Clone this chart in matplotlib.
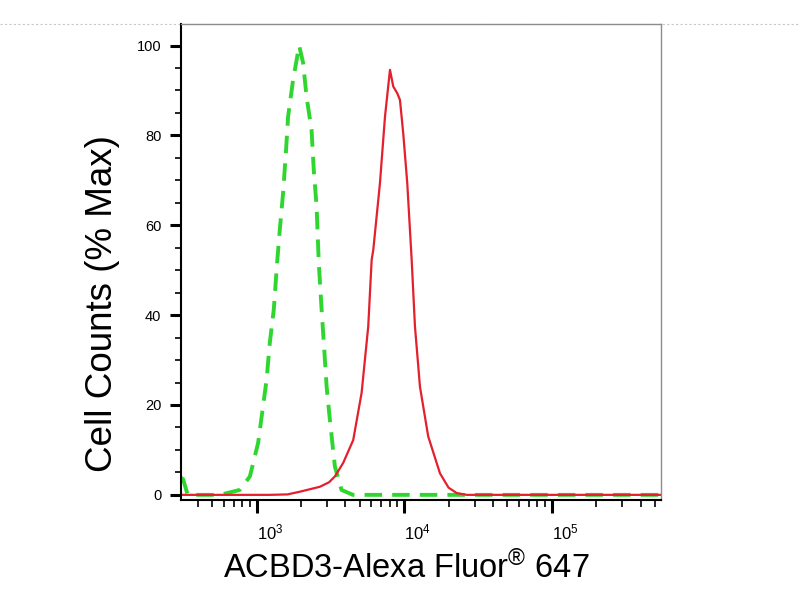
import matplotlib
matplotlib.use("Agg")
import matplotlib.pyplot as plt
from matplotlib.lines import Line2D
from matplotlib.ticker import LogLocator, FixedLocator, NullFormatter

plt.rcParams['font.family'] = ['Liberation Sans', 'DejaVu Sans']
plt.rcParams['mathtext.fontset'] = 'custom'
plt.rcParams['mathtext.rm'] = 'Liberation Sans'
plt.rcParams['mathtext.it'] = 'Liberation Sans'

# isotype control (green dashed)
ctrl_x = [307, 318, 342, 413, 564, 771, 902, 1026, 1099, 1170, 1230, 1309, 1380,
          1439, 1514, 1581, 1637, 1770, 1945, 2070, 2183, 2360, 2443, 2553, 2642,
          2761, 2858, 2985, 3141, 3396, 3767, 4498, 9376, 44670, 542000]
ctrl_y = [3.8, 3.5, 0.0, 0.0, 0.0, 1.1, 4.1, 11.6, 18.9, 25.6, 33.8, 41.2, 51.8,
          59.1, 67.2, 76.1, 84.2, 92.4, 100.0, 96.1, 88.6, 81.2, 72.3, 64.2, 51.6,
          41.2, 33.8, 24.1, 16.7, 6.3, 1.1, 0.0, 0.0, 0.0, 0.0]

# ACBD3 stained sample (red)
acbd_x = [307, 1230, 1620, 1966, 2686, 3100, 3396, 3864, 4520, 5152, 5714, 6026,
          6180, 6860, 7420, 8020, 8440, 8980, 9370, 9860, 10500, 11250, 11840,
          12800, 14560, 17490, 20000, 22700, 26540, 542000]
acbd_y = [0.0, 0.0, 0.1, 0.7, 1.8, 2.8, 4.1, 7.1, 12.2, 22.7, 37.5, 52.3,
          54.5, 69.4, 84.2, 94.6, 90.9, 89.4, 87.9, 80.5, 69.4, 52.3, 37.5,
          24.1, 13.0, 4.8, 1.6, 0.4, 0.0, 0.0]

fig = plt.figure(figsize=(8, 6), dpi=100)
ax = fig.add_axes([0.226, 0.167, 0.600, 0.793])

ax.plot(ctrl_x, ctrl_y, color='#2fd62f', lw=2.8, ls=(0, (4.5, 2.6)))
ax.plot(acbd_x, acbd_y, color='#e3202c', lw=1.6)

ax.set_xscale('log')
ax.set_xlim(307, 548000)
ax.set_ylim(-1.1, 104.8)

ax.xaxis.set_major_locator(FixedLocator([1e3, 1e4, 1e5]))
ax.xaxis.set_minor_locator(LogLocator(base=10, subs=range(2, 10), numticks=20))
ax.xaxis.set_minor_formatter(NullFormatter())
ax.yaxis.set_major_locator(FixedLocator([0, 20, 40, 60, 80, 100]))
ax.yaxis.set_minor_locator(FixedLocator(range(5, 100, 5)))

ax.tick_params(axis='both', which='major', direction='out', width=2.2, color='black')
ax.tick_params(axis='both', which='minor', direction='out', width=1.2, color='black')
ax.tick_params(axis='x', which='major', length=9, pad=7, labelsize=12)
ax.tick_params(axis='x', which='minor', length=5)
ax.tick_params(axis='y', which='major', length=8, pad=6, labelsize=10.5)
ax.tick_params(axis='y', which='minor', length=4)
for lab in ax.get_xticklabels():
    lab.set_horizontalalignment('left')

for s in ['left', 'bottom']:
    ax.spines[s].set_color('black')
    ax.spines[s].set_linewidth(1.5)
for s in ['top', 'right']:
    ax.spines[s].set_color('#8c8c8c')
    ax.spines[s].set_linewidth(1.0)

ax.set_xlabel('ACBD3-Alexa Fluor$^{®}$ 647', fontsize=23.5)
ax.set_ylabel('Cell Counts (% Max)', fontsize=26.5)
ax.xaxis.set_label_coords(0.469, -0.107)
ax.yaxis.set_label_coords(-0.126, 0.412)

# dotted frame line running across the whole picture at the top
fig.add_artist(Line2D([0, 1], [0.96, 0.96], transform=fig.transFigure,
                      color='#c8c8c8', lw=0.8, ls=(0, (2, 2)), zorder=0))

fig.savefig('out.png', dpi=100)
